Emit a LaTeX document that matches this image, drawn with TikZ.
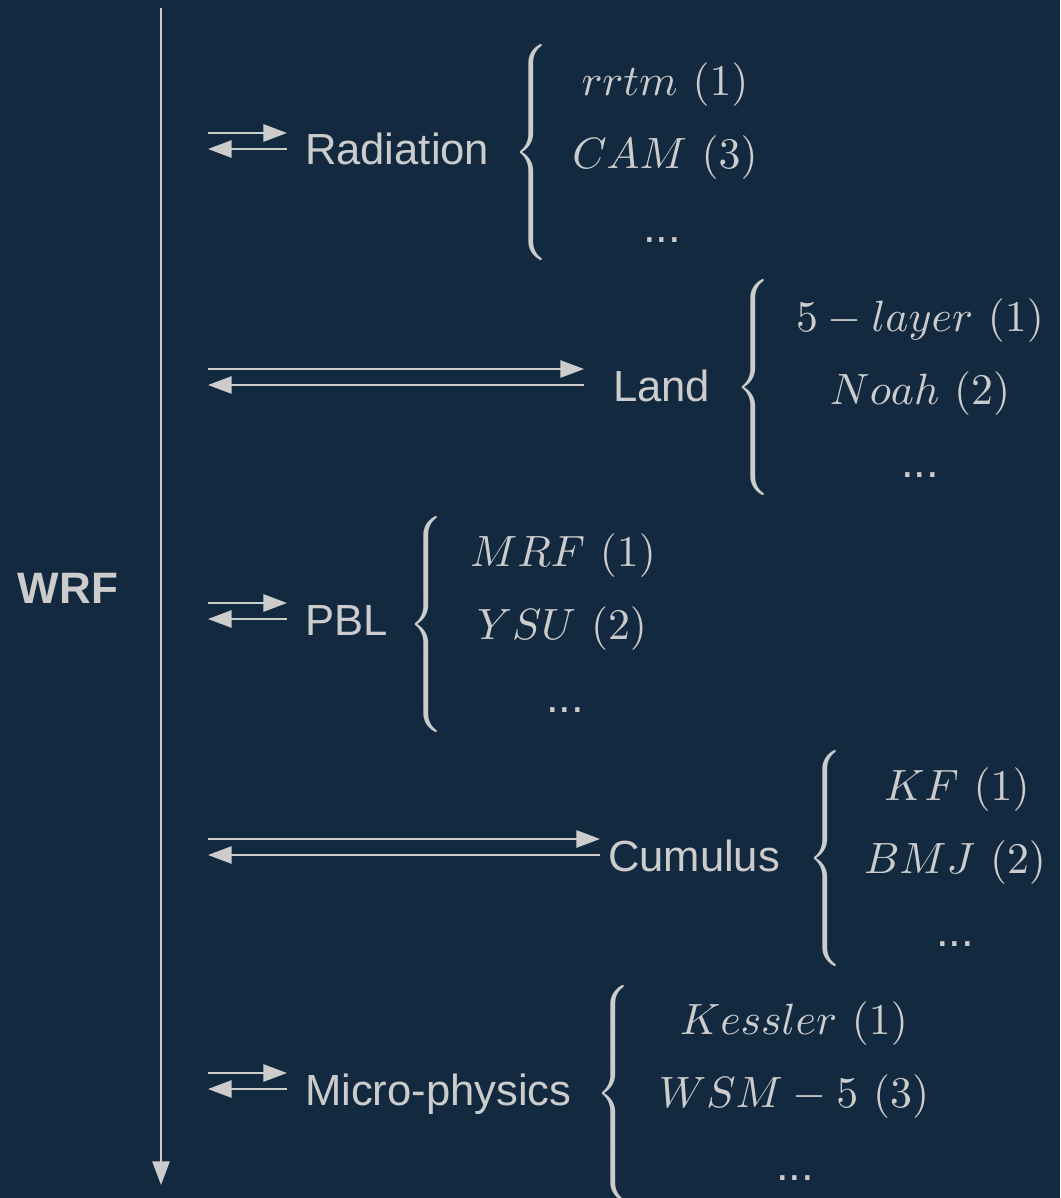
\documentclass[tikz,border=0pt]{standalone}
\usepackage{fontspec}
\usetikzlibrary{arrows.meta}
\newfontfamily\helv{Liberation Sans}
\definecolor{bg}{RGB}{19,41,64}
\definecolor{fg}{RGB}{204,204,204}
\delimiterfactor=1000
\delimitershortfall=0pt
\newcommand\mybrace{$\left\{\vcenter{\hbox{\rule{0pt}{52.5pt}}}\right.\kern-\nulldelimiterspace$}
\begin{document}
\begin{tikzpicture}[x=0.25pt,y=-0.25pt,
  every node/.style={inner sep=0pt, outer sep=0pt, text=fg},
  lbl/.style={font=\helv\fontsize{10.9}{13}\selectfont, anchor=base west},
  ent/.style={font=\fontsize{11.35}{14}\selectfont, anchor=base},
  brc/.style={font=\fontsize{11.6}{14}\selectfont, anchor=west},
  conn/.style={draw=fg, line width=0.5pt, -{Triangle[length=5.9pt,width=4.3pt]}}]
\fill[bg] (0,0) rectangle (1060,1198);
\useasboundingbox (0,0) rectangle (1060,1198);

% main axis
\coordinate (top) at (161,8);
\coordinate (bot) at (161,1185);
\draw[conn] (top) -- (bot);
\node[font=\helv\bfseries\fontsize{11}{13}\selectfont, anchor=base] (wrf) at (68,603) {WRF};

% Radiation
\coordinate (r1) at (208,133); \coordinate (r2) at (287,133);
\coordinate (r3) at (208,149); \coordinate (r4) at (287,149);
\draw[conn] (r1) -- (r2);
\draw[conn] (r4) -- (r3);
\node[lbl] (rad) at (305,165) {Radiation};
\node[brc] (radb) at (513,153) {\mybrace};
\node[ent] (rad1) at (665,96) {$rrtm\ (1)$};
\node[ent] (rad2) at (665,169) {$CAM\ (3)$};
\node[ent] (rad3) at (662,242) {\helv ...};

% Land
\coordinate (l1) at (208,369); \coordinate (l2) at (584,369);
\coordinate (l3) at (208,385); \coordinate (l4) at (584,385);
\draw[conn] (l1) -- (l2);
\draw[conn] (l4) -- (l3);
\node[lbl] (land) at (613,401) {Land};
\node[brc] (landb) at (735,387) {\mybrace};
\node[ent] (land1) at (920,331) {$5-layer\ (1)$};
\node[ent] (land2) at (920,404) {$Noah\ (2)$};
\node[ent] (land3) at (920,477) {\helv ...};

% PBL
\coordinate (p1) at (208,603); \coordinate (p2) at (287,603);
\coordinate (p3) at (208,619); \coordinate (p4) at (287,619);
\draw[conn] (p1) -- (p2);
\draw[conn] (p4) -- (p3);
\node[lbl] (pbl) at (305,635) {PBL};
\node[brc] (pblb) at (408,624) {\mybrace};
\node[ent] (pbl1) at (563,566) {$MRF\ (1)$};
\node[ent] (pbl2) at (562,639) {$YSU\ (2)$};
\node[ent] (pbl3) at (565,712) {\helv ...};

% Cumulus
\coordinate (c1) at (208,839); \coordinate (c2) at (600,839);
\coordinate (c3) at (208,855); \coordinate (c4) at (600,855);
\draw[conn] (c1) -- (c2);
\draw[conn] (c4) -- (c3);
\node[lbl] (cum) at (608,871) {Cumulus};
\node[brc] (cumb) at (807,858) {\mybrace};
\node[ent] (cum1) at (957,800) {$KF\ (1)$};
\node[ent] (cum2) at (955,873) {$BMJ\ (2)$};
\node[ent] (cum3) at (955,946) {\helv ...};

% Micro-physics
\coordinate (m1) at (208,1073); \coordinate (m2) at (287,1073);
\coordinate (m3) at (208,1089); \coordinate (m4) at (287,1089);
\draw[conn] (m1) -- (m2);
\draw[conn] (m4) -- (m3);
\node[lbl] (mic) at (305,1105) {Micro-physics};
\node[brc] (micb) at (595,1093) {\mybrace};
\node[ent] (mic1) at (794,1034) {$Kessler\ (1)$};
\node[ent] (mic2) at (794,1107) {$WSM-5\ (3)$};
\node[ent] (mic3) at (795,1180) {\helv ...};
\end{tikzpicture}
\end{document}
